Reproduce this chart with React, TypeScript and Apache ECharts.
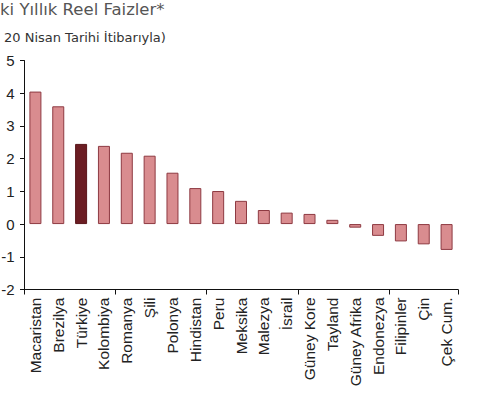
import React, { useEffect, useRef } from "react";
import * as echarts from "echarts";

const categories = [
  "Macaristan", "Brezilya", "Türkiye", "Kolombiya", "Romanya", "Şili", "Polonya",
  "Hindistan", "Peru", "Meksika", "Malezya", "İsrail", "Güney Kore", "Tayland",
  "Güney Afrika", "Endonezya", "Filipinler", "Çin", "Çek Cum.",
];
const values = [
  4.05, 3.6, 2.45, 2.39, 2.18, 2.09, 1.57, 1.1, 1.01, 0.71, 0.43, 0.35, 0.31, 0.13,
  -0.11, -0.36, -0.53, -0.62, -0.79,
];
const highlight = "Türkiye";
const yTicks = { min: -2, max: 5, interval: 1 };
const titleText = "ki Yıllık Reel Faizler*";
const subtitleText = "20 Nisan Tarihi İtibarıyla)";

const LABEL_FONT = "'Liberation Sans', Arial, sans-serif";

export default function App() {
  const ref = useRef<HTMLDivElement>(null);
  useEffect(() => {
    if (!ref.current) return;
    const chart = echarts.init(ref.current, null, { renderer: "svg" });
    const lineStyle = { color: "#111", width: 1 };
    chart.setOption({
      animation: false,
      backgroundColor: "#fff",
      graphic: [
        {
          type: "text",
          left: 0,
          top: 1,
          style: {
            text: titleText,
            fill: "#555",
            font: "16.5px 'DejaVu Sans'",
          },
        },
        {
          type: "text",
          left: 4,
          top: 31,
          style: {
            text: subtitleText,
            fill: "#333",
            font: "13px 'DejaVu Sans'",
          },
        },
      ],
      grid: {
        left: 24,
        top: 60.5,
        width: 434,
        height: 229,
        containLabel: false,
        outerBoundsMode: "none",
      },
      xAxis: [
        {
          type: "category",
          data: categories,
          position: "bottom",
          axisLine: { show: false },
          axisTick: { show: false },
          axisLabel: {
            rotate: 90,
            margin: 8,
            interval: 0,
            color: "#222",
            fontFamily: LABEL_FONT,
            fontSize: 15.5,
          },
        },
        {
          type: "category",
          data: categories,
          position: "bottom",
          axisLine: { show: true, onZero: true, lineStyle },
          axisTick: { show: true, inside: false, length: 5, lineStyle },
          axisLabel: { show: false },
        },
      ],
      yAxis: {
        type: "value",
        min: yTicks.min,
        max: yTicks.max,
        interval: yTicks.interval,
        axisLine: { show: true, lineStyle },
        axisTick: { show: true, length: 4, lineStyle },
        splitLine: { show: false },
        axisLabel: {
          margin: 9.5,
          color: "#222",
          fontFamily: LABEL_FONT,
          fontSize: 15,
        },
      },
      series: [
        {
          type: "bar",
          xAxisIndex: 0,
          barWidth: 12,
          data: values.map((v, i) => ({
            value: v,
            itemStyle:
              categories[i] === highlight
                ? { color: "#6B1D23", borderColor: "#5A161B", borderWidth: 1 }
                : { color: "#D98C8F", borderColor: "#8E3A42", borderWidth: 1 },
          })),
        },
      ],
    });
    return () => chart.dispose();
  }, []);
  return (
    <div
      ref={ref}
      style={{ position: "fixed", left: 0, top: 0, width: 479, height: 405 }}
    />
  );
}
